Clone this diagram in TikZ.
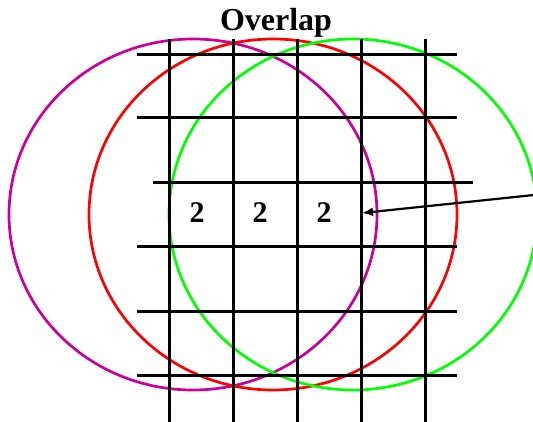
\documentclass[tikz,border=0pt]{standalone}
\usepackage{fontspec}
\setmainfont{Liberation Serif}
\usetikzlibrary{arrows.meta}
\definecolor{ovmag}{RGB}{204,0,153}
\begin{document}
\begin{tikzpicture}[x=1pt,y=-1pt,
gl/.style={line width=3pt},
ring/.style={line width=2.7pt},
num/.style={font=\bfseries\fontsize{30}{30}\selectfont},
arr/.style={-{Latex[length=11pt,width=9pt]},line width=2.2pt}]
\useasboundingbox (0,0) rectangle (533,422);
\node[font=\bfseries\fontsize{32}{32}\selectfont,anchor=base](title) at (276,31){Overlap};
% circles
\draw[ring,ovmag](193,214.5) ellipse [x radius=184,y radius=175.5];
\draw[ring,red](273,214.5) ellipse [x radius=184,y radius=175.5];
\draw[ring,green](353,214.5) ellipse [x radius=184,y radius=175.5];
% grid
\foreach \x in {169,233,297,361,425} \draw[gl](\x,39)--(\x,422);
\foreach \y in {55,118,247,311,375} \draw[gl](137,\y)--(457,\y);
\draw[gl](153,183)--(473,183);
\node[num](c1) at (197,212.5){2};
\node[num](c2) at (260,212.5){2};
\node[num](c3) at (324,212.5){2};
\coordinate (src) at (534,195);
\coordinate (tip) at (362,213);
\draw[arr](src)--(tip);
\end{tikzpicture}
\end{document}
